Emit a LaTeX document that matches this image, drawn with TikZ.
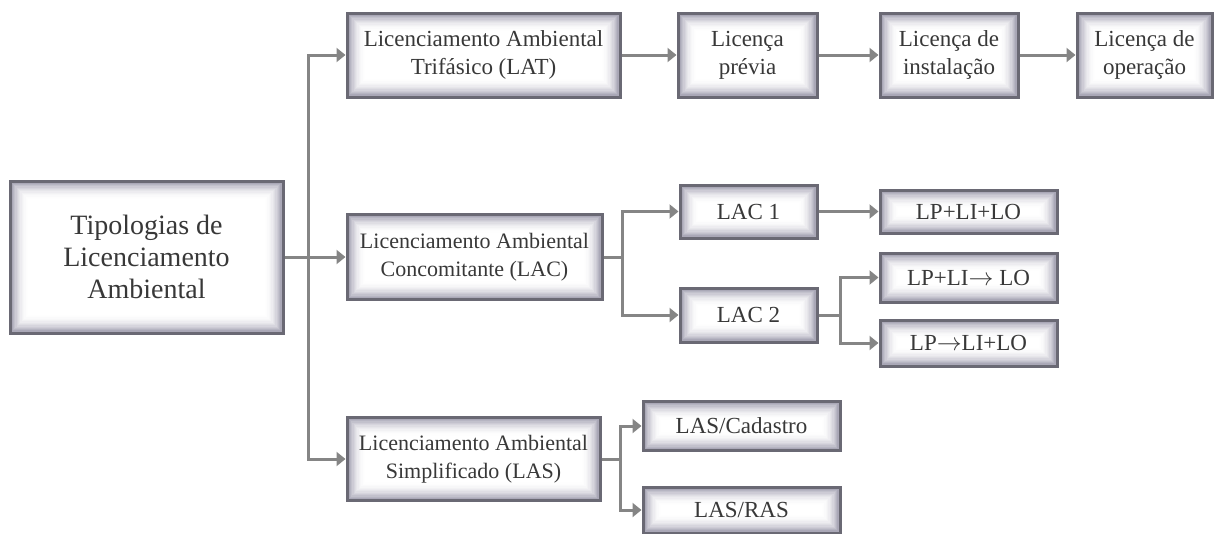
\documentclass[tikz,border=0pt]{standalone}
\usepackage{fontspec}
\setmainfont{Liberation Serif}
\usetikzlibrary{arrows.meta}
\definecolor{edgegray}{HTML}{6A6974}
\definecolor{glowgray}{HTML}{9C9AAC}
\definecolor{txtgray}{HTML}{383838}
\definecolor{linegray}{HTML}{858585}
\tikzset{
  box/.style={draw=edgegray, line width=3pt, fill=glowgray, text=txtgray,
    align=center, inner sep=0pt, font=\fontsize{23}{28}\selectfont,
    path picture={
      \foreach \i in {1,...,14}{
        \pgfmathsetmacro{\pct}{100-100*(1-\i/14)^2}
        \fill[white!\pct!glowgray]
          ([shift={(\i*1.3pt,-\i*1.3pt)}]path picture bounding box.north west)
          rectangle
          ([shift={(-\i*1.3pt,\i*1.3pt)}]path picture bounding box.south east);
      }
    }},
  conn/.style={draw=linegray, line width=3pt,
    -{Triangle[width=14pt,length=9pt]}},
  plain/.style={draw=linegray, line width=3pt}
}
\begin{document}
\begin{tikzpicture}[x=1pt,y=-1pt]
\useasboundingbox (0,0) rectangle (1215,533);
% nodes
\node[box, minimum width=273pt, minimum height=152pt, font=\fontsize{28}{32}\selectfont] (root) at (146.5,257) {Tipologias de\\Licenciamento\\Ambiental};
\node[box, minimum width=273pt, minimum height=84pt] (lat) at (483.5,55) {Licenciamento Ambiental\\Trifásico (LAT)};
\node[box, minimum width=139pt, minimum height=84pt] (prev) at (747.5,55) {Licença\\prévia};
\node[box, minimum width=138pt, minimum height=84pt] (inst) at (949,55) {Licença de\\instalação};
\node[box, minimum width=135pt, minimum height=84pt] (oper) at (1144.5,55) {Licença de\\operação};
\node[box, minimum width=255pt, minimum height=85pt, font=\fontsize{22}{28}\selectfont] (lac) at (474.5,257) {Licenciamento Ambiental\\Concomitante (LAC)};
\node[box, minimum width=137pt, minimum height=53pt] (lac1) at (748.5,211.5) {LAC 1};
\node[box, minimum width=137pt, minimum height=54pt] (lac2) at (748.5,315) {LAC 2};
\node[box, minimum width=177pt, minimum height=43pt] (p1) at (968.5,211.5) {LP+LI+LO};
\node[box, minimum width=177pt, minimum height=49pt] (p2) at (968.5,277.5) {LP+LI$\rightarrow$ LO};
\node[box, minimum width=177pt, minimum height=46pt] (p3) at (968.5,343) {LP$\rightarrow$LI+LO};
\node[box, minimum width=253pt, minimum height=83pt, font=\fontsize{22}{28}\selectfont] (las) at (473.5,459) {Licenciamento Ambiental\\Simplificado (LAS)};
\node[box, minimum width=197pt, minimum height=49pt] (cad) at (741.5,426) {LAS/Cadastro};
\node[box, minimum width=197pt, minimum height=46pt] (ras) at (741.5,510) {LAS/RAS};
% bus coordinates
\coordinate (b1) at (308,257);
\coordinate (b2) at (622,257);
\coordinate (b3) at (840,315);
\coordinate (b4) at (620,459);
% connectors
\draw[conn] (root.east) -- (lac.west);
\draw[conn] (b1) |- (lat.west);
\draw[conn] (b1) |- (las.west);
\draw[conn] (lat.east) -- (prev.west);
\draw[conn] (prev.east) -- (inst.west);
\draw[conn] (inst.east) -- (oper.west);
\draw[plain] (lac.east) -- (b2);
\draw[conn] (b2) |- (lac1.west);
\draw[conn] (b2) |- (lac2.west);
\draw[conn] (lac1.east) -- (p1.west);
\draw[plain] (lac2.east) -- (b3);
\draw[conn] (b3) |- (p2.west);
\draw[conn] (b3) |- (p3.west);
\draw[plain] (las.east) -- (b4);
\draw[conn] (b4) |- (cad.west);
\draw[conn] (b4) |- (ras.west);
\end{tikzpicture}
\end{document}
